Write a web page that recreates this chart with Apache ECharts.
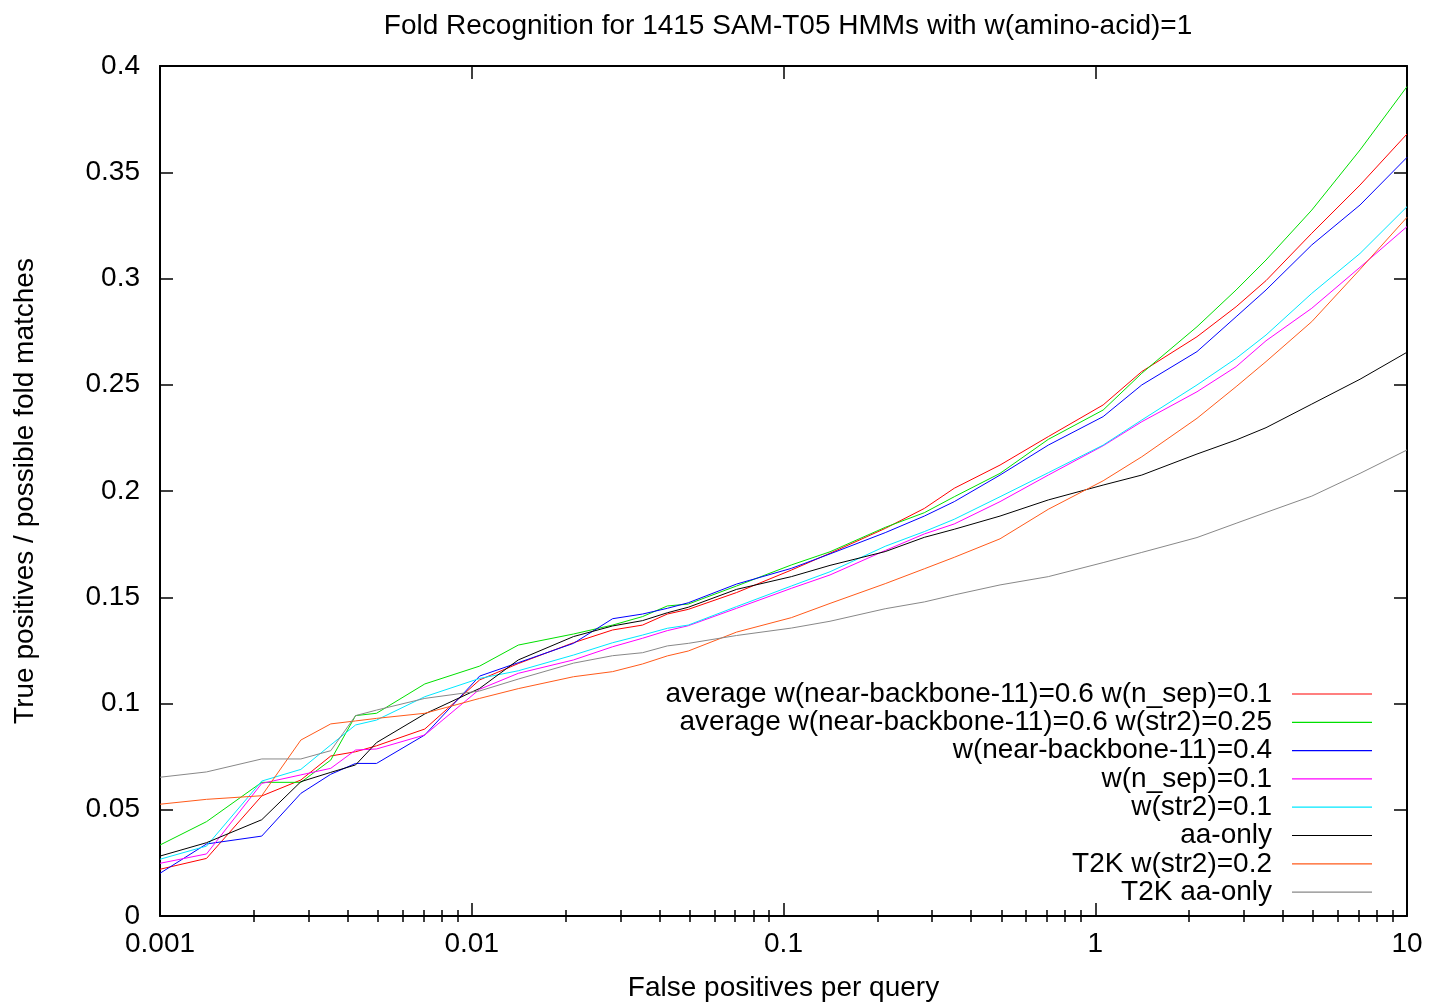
<!DOCTYPE html>
<html>
<head>
<meta charset="utf-8">
<script src="https://cdn.jsdelivr.net/npm/echarts@6/dist/echarts.min.js"></script>
<style>
  html, body { margin: 0; padding: 0; background: #fff; }
  #main { width: 1430px; height: 1004px; }
</style>
</head>
<body>
<div id="main"></div>
<script>
// False positives per query (x), shared by all curves
const fpPerQuery = [0.001, 0.00141, 0.00212, 0.00283, 0.00353, 0.00424, 0.00495, 0.00707,
  0.0106, 0.0141, 0.0212, 0.0283, 0.0353, 0.0424, 0.0495, 0.0707, 0.106, 0.141, 0.212,
  0.283, 0.353, 0.495, 0.707, 1.06, 1.41, 2.12, 2.83, 3.53, 4.95, 7.07, 10];

const avgNbNsep = [0.0220, 0.0271, 0.0565, 0.0640, 0.0753, 0.0773, 0.0801, 0.0880,
  0.1111, 0.1188, 0.1286, 0.1346, 0.1369, 0.1421, 0.1443, 0.1522, 0.1628, 0.1707, 0.1824,
  0.1918, 0.2013, 0.2122, 0.2256, 0.2405, 0.2562, 0.2726, 0.2867, 0.2990, 0.3213, 0.3440, 0.3680];

const avgNbStr2 = [0.0334, 0.0444, 0.0629, 0.0629, 0.0734, 0.0943, 0.0954, 0.1092,
  0.1176, 0.1275, 0.1327, 0.1369, 0.1409, 0.1459, 0.1468, 0.1553, 0.1652, 0.1714, 0.1829,
  0.1898, 0.1973, 0.2083, 0.2243, 0.2381, 0.2554, 0.2773, 0.2946, 0.3087, 0.3322, 0.3605, 0.3903];

const nearBackbone = [0.0201, 0.0339, 0.0376, 0.0577, 0.0667, 0.0718, 0.0718, 0.0852,
  0.1129, 0.1192, 0.1283, 0.1399, 0.1421, 0.1448, 0.1474, 0.1562, 0.1636, 0.1704, 0.1804,
  0.1882, 0.1950, 0.2075, 0.2216, 0.2350, 0.2499, 0.2656, 0.2820, 0.2946, 0.3158, 0.3346, 0.3570];

const nSep = [0.0248, 0.0292, 0.0624, 0.0664, 0.0695, 0.0781, 0.0786, 0.0852,
  0.1067, 0.1142, 0.1205, 0.1267, 0.1307, 0.1343, 0.1366, 0.1448, 0.1542, 0.1605, 0.1720,
  0.1798, 0.1845, 0.1950, 0.2075, 0.2213, 0.2326, 0.2467, 0.2585, 0.2707, 0.2860, 0.3053, 0.3244];

const str2 = [0.0267, 0.0329, 0.0635, 0.0690, 0.0805, 0.0899, 0.0922, 0.1032,
  0.1118, 0.1154, 0.1228, 0.1286, 0.1322, 0.1354, 0.1369, 0.1456, 0.1553, 0.1620, 0.1740,
  0.1809, 0.1867, 0.1973, 0.2086, 0.2216, 0.2334, 0.2499, 0.2624, 0.2734, 0.2930, 0.3118, 0.3338];

const aaOnly = [0.0282, 0.0345, 0.0453, 0.0632, 0.0676, 0.0711, 0.0816, 0.0951,
  0.1071, 0.1205, 0.1315, 0.1365, 0.1390, 0.1427, 0.1453, 0.1537, 0.1597, 0.1650, 0.1715,
  0.1782, 0.1820, 0.1882, 0.1958, 0.2028, 0.2075, 0.2174, 0.2240, 0.2298, 0.2409, 0.2526, 0.2653];

const t2kStr2 = [0.0526, 0.0549, 0.0566, 0.0828, 0.0904, 0.0918, 0.0930, 0.0954,
  0.1024, 0.1070, 0.1126, 0.1150, 0.1186, 0.1224, 0.1247, 0.1336, 0.1404, 0.1471, 0.1564,
  0.1634, 0.1688, 0.1775, 0.1914, 0.2048, 0.2161, 0.2342, 0.2491, 0.2609, 0.2797, 0.3043, 0.3288];

const t2kAaOnly = [0.0653, 0.0678, 0.0739, 0.0739, 0.0778, 0.0943, 0.0969, 0.1024,
  0.1059, 0.1115, 0.1190, 0.1225, 0.1239, 0.1271, 0.1283, 0.1320, 0.1355, 0.1387, 0.1446,
  0.1478, 0.1511, 0.1558, 0.1597, 0.1663, 0.1711, 0.1781, 0.1848, 0.1899, 0.1976, 0.2083, 0.2193];

const seriesNames = [
  'average w(near-backbone-11)=0.6 w(n_sep)=0.1',
  'average w(near-backbone-11)=0.6 w(str2)=0.25',
  'w(near-backbone-11)=0.4',
  'w(n_sep)=0.1',
  'w(str2)=0.1',
  'aa-only',
  'T2K w(str2)=0.2',
  'T2K aa-only'
];
const seriesValues = [avgNbNsep, avgNbStr2, nearBackbone, nSep, str2, aaOnly, t2kStr2, t2kAaOnly];
const seriesColors = ['#ff0000', '#00e000', '#0000ff', '#ff00ff', '#00e8ff', '#000000', '#ff5a1a', '#888888'];

// minor ticks for the log axis (2..9 in each decade)
const minorTickValues = [0.002, 0.003, 0.004, 0.005, 0.006, 0.007, 0.008, 0.009,
  0.02, 0.03, 0.04, 0.05, 0.06, 0.07, 0.08, 0.09,
  0.2, 0.3, 0.4, 0.5, 0.6, 0.7, 0.8, 0.9,
  2, 3, 4, 5, 6, 7, 8, 9];

const FONT = 'Liberation Sans';
const FONT_SIZE = 28;

const majorLogAxis = (position, showLabels) => ({
  type: 'log',
  logBase: 10,
  position: position,
  min: 0.001,
  max: 10,
  gridIndex: 0,
  axisLine: { show: true, onZero: false, lineStyle: { color: '#000', width: 2 } },
  axisTick: { show: true, inside: true, length: 13, lineStyle: { color: '#000', width: 1.5 } },
  axisLabel: {
    show: showLabels,
    color: '#000',
    fontFamily: FONT,
    fontSize: FONT_SIZE,
    margin: 14,
    formatter: (v) => String(v)
  },
  splitLine: { show: false },
  minorTick: { show: false }
});

// value axis in log10 space, used only to place the minor ticks
const minorLogAxis = (position) => ({
  type: 'value',
  position: position,
  min: -3,
  max: 1,
  gridIndex: 0,
  axisLine: { show: false },
  axisLabel: { show: false },
  splitLine: { show: false },
  axisTick: {
    show: true,
    inside: true,
    length: 6,
    customValues: minorTickValues.map((v) => Math.log10(v)),
    lineStyle: { color: '#000', width: 1.5 }
  }
});

const valueAxis = (position, showLabels) => ({
  type: 'value',
  position: position,
  min: 0,
  max: 0.4,
  interval: 0.05,
  gridIndex: 0,
  axisLine: { show: true, onZero: false, lineStyle: { color: '#000', width: 2 } },
  axisTick: { show: true, inside: true, length: 13, lineStyle: { color: '#000', width: 1.5 } },
  axisLabel: {
    show: showLabels,
    color: '#000',
    fontFamily: FONT,
    fontSize: FONT_SIZE,
    margin: 20,
    formatter: (v) => String(+v.toFixed(2))
  },
  splitLine: { show: false }
});

const xAxes = [
  majorLogAxis('bottom', true),
  majorLogAxis('top', false),
  minorLogAxis('bottom'),
  minorLogAxis('top')
];
xAxes[0].name = 'False positives per query';
xAxes[0].nameLocation = 'middle';
xAxes[0].nameGap = 58;
xAxes[0].nameTextStyle = { color: '#000', fontFamily: FONT, fontSize: FONT_SIZE };

const yAxes = [valueAxis('left', true), valueAxis('right', false)];
yAxes[0].name = 'True positives / possible fold matches';
yAxes[0].nameLocation = 'middle';
yAxes[0].nameGap = 121;
yAxes[0].nameTextStyle = { color: '#000', fontFamily: FONT, fontSize: FONT_SIZE };

const series = seriesNames.map((name, i) => ({
  name: name,
  type: 'line',
  xAxisIndex: 0,
  yAxisIndex: 0,
  symbol: 'none',
  showSymbol: false,
  clip: true,
  lineStyle: { color: seriesColors[i], width: 1 },
  itemStyle: { color: seriesColors[i] },
  emphasis: { disabled: true },
  data: fpPerQuery.map((x, j) => [x, seriesValues[i][j]])
}));

const option = {
  animation: false,
  backgroundColor: '#fff',
  title: {
    text: 'Fold Recognition for 1415 SAM-T05 HMMs with w(amino-acid)=1',
    left: 783,
    textAlign: 'center',
    top: 7,
    textStyle: { color: '#000', fontFamily: FONT, fontSize: FONT_SIZE, fontWeight: 'normal' }
  },
  grid: {
    left: 160,
    right: 23,
    top: 66,
    bottom: 88,
    containLabel: false,
    outerBoundsMode: 'none'
  },
  legend: {
    orient: 'vertical',
    right: 53,
    top: 675,
    align: 'right',
    icon: 'rect',
    itemWidth: 80,
    itemHeight: 1.2,
    itemGap: 0.3,
    selectedMode: false,
    textStyle: {
      color: '#000',
      fontFamily: FONT,
      fontSize: FONT_SIZE,
      lineHeight: 28,
      padding: [0, 15, 0, 0]
    },
    data: seriesNames
  },
  xAxis: xAxes,
  yAxis: yAxes,
  series: series
};

const chart = echarts.init(document.getElementById('main'), null, { renderer: 'canvas' });
chart.setOption(option);
</script>
</body>
</html>
